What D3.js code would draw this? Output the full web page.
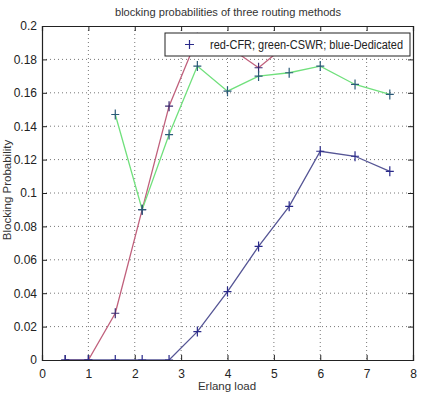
<!DOCTYPE html>
<html><head><meta charset="utf-8">
<script src="https://cdn.jsdelivr.net/npm/d3@7"></script>
<style>body{margin:0;background:#fff}svg{display:block}text{font-family:"Liberation Sans",Arial,sans-serif}</style>
</head><body><svg id="c" width="423" height="394"></svg>
<script>
const loads = [0.5, 1.0, 1.58, 2.16, 2.74, 3.35, 4.0, 4.67, 5.33, 6.0, 6.75, 7.5];
const redCFR = [0, 0, 0.028, 0.090, 0.152, 0.193, 0.188, 0.175, 0.190, 0.191, 0.192, 0.190];
const greenCSWR = [null, null, 0.147, 0.090, 0.135, 0.176, 0.161, 0.170, 0.172, 0.176, 0.165, 0.159];
const blueDedicated = [0, 0, 0, 0, 0, 0.017, 0.041, 0.068, 0.092, 0.125, 0.122, 0.113];
const xTicks = [0,1,2,3,4,5,6,7,8];
const yTicks = [0,0.02,0.04,0.06,0.08,0.1,0.12,0.14,0.16,0.18,0.2];
const title = "blocking probabilities of three routing methods";
const xLabel = "Erlang load", yLabel = "Blocking Probability";
const legendText = "red-CFR; green-CSWR; blue-Dedicated";

const svg = d3.select("#c");
const L=42, R=413, T=26, B=360;
const x = d3.scaleLinear().domain([0,8]).range([L,R]);
const y = d3.scaleLinear().domain([0,0.2]).range([B,T]);

svg.append("defs").append("clipPath").attr("id","clip").append("rect")
  .attr("x",L).attr("y",T).attr("width",R-L).attr("height",B-T);

// grid
const g = svg.append("g");
g.selectAll(".gx").data(xTicks.slice(1,-1)).enter().append("line")
  .attr("x1",d=>x(d)).attr("x2",d=>x(d)).attr("y1",T).attr("y2",B)
  .attr("stroke","#777").attr("stroke-width",1).attr("stroke-dasharray","1,3");
g.selectAll(".gy").data(yTicks.slice(1,-1)).enter().append("line")
  .attr("y1",d=>y(d)).attr("y2",d=>y(d)).attr("x1",L).attr("x2",R)
  .attr("stroke","#777").attr("stroke-width",1).attr("stroke-dasharray","1,3");

// axes
const ax = svg.append("g").attr("transform",`translate(0,${B})`)
  .call(d3.axisBottom(x).tickValues(xTicks).tickSize(-5).tickPadding(9).tickFormat(d3.format("d")));
const ay = svg.append("g").attr("transform",`translate(${L},0)`)
  .call(d3.axisLeft(y).tickValues(yTicks).tickSize(-5).tickPadding(5).tickFormat(d=>d===0?"0":String(+d.toFixed(2))));
const at = svg.append("g").attr("transform",`translate(0,${T})`)
  .call(d3.axisTop(x).tickValues(xTicks).tickSize(-5).tickFormat(""));
const ar = svg.append("g").attr("transform",`translate(${R},0)`)
  .call(d3.axisRight(y).tickValues(yTicks).tickSize(-5).tickFormat(""));
[ax,ay,at,ar].forEach(a=>{
  a.select(".domain").attr("stroke","#222").attr("stroke-width",1.2);
  a.selectAll(".tick line").attr("stroke","#222");
  a.selectAll("text").attr("font-size",12).attr("fill","#222").attr("font-family","Liberation Sans, Arial, sans-serif");
});

// lines
const series = [
  {v:redCFR, c:"#c0607c", m:"#3a2a70"},
  {v:greenCSWR, c:"#70e07c", m:"#2a5a78"},
  {v:blueDedicated, c:"#555595", m:"#2a2a8a"}
];
const line = d3.line().defined(d=>d[1]!==null).x(d=>x(d[0])).y(d=>y(d[1]));
const pl = svg.append("g").attr("clip-path","url(#clip)");
series.forEach(s=>{
  const pts = loads.map((l,i)=>[l,s.v[i]]);
  pl.append("path").datum(pts).attr("d",line).attr("fill","none")
    .attr("stroke",s.c).attr("stroke-width",1.3);
});
series.forEach(s=>{
  const pts = loads.map((l,i)=>[l,s.v[i]]).filter(d=>d[1]!==null);
  const mk = pl.selectAll(null).data(pts).enter().append("path")
    .attr("d",d=>`M${x(d[0])-4},${y(d[1])}H${x(d[0])+4}M${x(d[0])},${y(d[1])-5}V${y(d[1])+5}`)
    .attr("stroke",s.m).attr("stroke-width",1.2).attr("fill","none");
});

// legend
const lg = svg.append("g");
lg.append("rect").attr("x",165).attr("y",33).attr("width",245).attr("height",23)
  .attr("fill","#fff").attr("stroke","#222").attr("stroke-width",1);
lg.append("path").attr("d","M185,44.5H194M189.5,40V49").attr("stroke","#2a2a8a").attr("stroke-width",1.2);
lg.append("text").attr("x",210).attr("y",49).attr("font-size",12).attr("fill","#222")
  .attr("textLength",193).attr("lengthAdjust","spacingAndGlyphs").text(legendText);

// labels
svg.append("text").attr("x",228).attr("y",16).attr("text-anchor","middle").attr("font-size",11.5)
  .attr("fill","#333").attr("textLength",226).attr("lengthAdjust","spacingAndGlyphs").text(title);
svg.append("text").attr("x",227).attr("y",390).attr("text-anchor","middle").attr("font-size",11.5)
  .attr("fill","#333").text(xLabel);
svg.append("text").attr("transform","translate(11,190) rotate(-90)").attr("text-anchor","middle")
  .attr("font-size",11.5).attr("fill","#333").text(yLabel);
</script></body></html>
